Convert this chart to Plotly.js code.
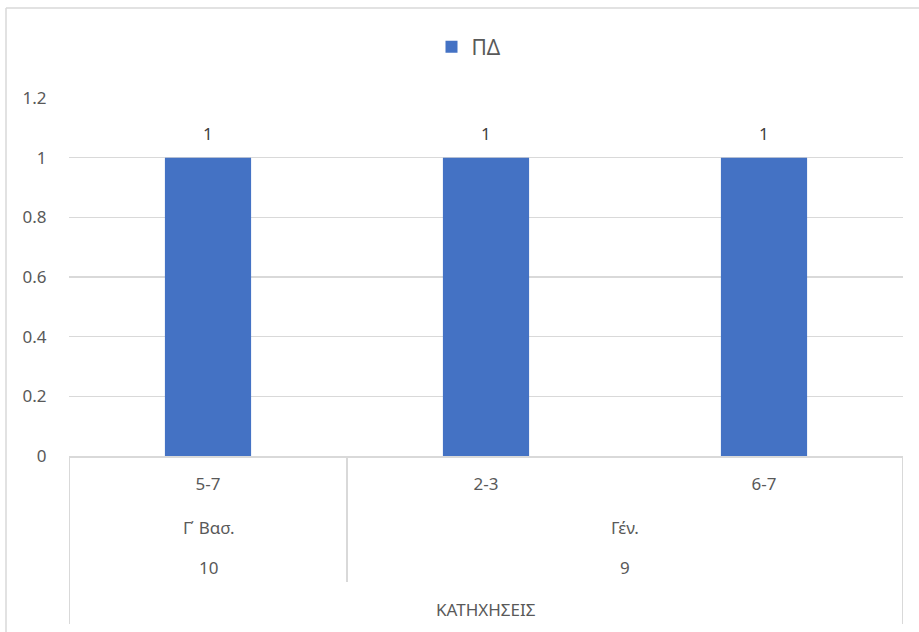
<!DOCTYPE html>
<html>
<head>
<meta charset="utf-8">
<script src="https://cdn.plot.ly/plotly-3.0.1.min.js"></script>
<style>html,body{margin:0;padding:0;background:#fff;}#chart{width:919px;height:632px;}</style>
</head>
<body>
<div id="chart"></div>
<script>
// ---- data ----
const categories = ["5-7", "2-3", "6-7"];
const values = [1, 1, 1];
const seriesName = "ΠΔ";
const level2Labels = ["Γ΄ Βασ.", "Γέν."];
const level2Start = [0, 1];
const level2End = [0, 2];
const level3Labels = ["10", "9"];
const level4Label = "ΚΑΤΗΧΗΣΕΙΣ";

// ---- layout geometry (pixels) ----
const FIG_W = 919, FIG_H = 632;
const L = 69, R = 16, T = 98, B = 176;
const PW = FIG_W - L - R, PH = FIG_H - T - B;
const AXIS_Y = FIG_H - B;
const X = px => (px - L) / PW;
const Y = py => (AXIS_Y - py) / PH;

const FONT = "Noto Sans, Open Sans, sans-serif";
const GRID = "#d9d9d9";
const TXT = "#595959";

const trace = {
  type: "bar",
  x: categories,
  y: values,
  name: seriesName,
  marker: {color: "#4472C4"},
  showlegend: true,
  hoverinfo: "x+y"
};

const shapes = [];
// outer chart border (top & left)
shapes.push({type: "line", xref: "paper", yref: "paper", x0: X(6), x1: X(6), y0: Y(8), y1: Y(640), line: {color: GRID, width: 1.5}});
shapes.push({type: "line", xref: "paper", yref: "paper", x0: X(6), x1: X(925), y0: Y(8), y1: Y(8), line: {color: GRID, width: 1.5}});
// outer category separators
shapes.push({type: "line", xref: "x", yref: "paper", x0: -0.5, x1: -0.5, y0: 0, y1: Y(624), line: {color: GRID, width: 2}});
shapes.push({type: "line", xref: "x", yref: "paper", x0: categories.length - 0.5, x1: categories.length - 0.5, y0: 0, y1: Y(624), line: {color: GRID, width: 2}});
// inner group separators
for (let i = 1; i < level2Start.length; i++) {
  const xb = level2Start[i] - 0.5;
  shapes.push({type: "line", xref: "x", yref: "paper", x0: xb, x1: xb, y0: 0, y1: Y(582), line: {color: GRID, width: 2}});
}

const annotations = [];
// data labels above bars
categories.forEach((c, i) => {
  annotations.push({xref: "x", yref: "y", x: c, y: values[i], text: String(values[i]), showarrow: false, xanchor: "center", yanchor: "bottom", yshift: 11, font: {family: FONT, size: 17, color: "#404040"}});
});
for (let i = 0; i < level2Labels.length; i++) {
  const xc = (level2Start[i] + level2End[i]) / 2;
  annotations.push({xref: "x", yref: "paper", x: xc, y: Y(527), text: level2Labels[i], showarrow: false, xanchor: "center", yanchor: "middle", font: {family: FONT, size: 17, color: TXT}});
  annotations.push({xref: "x", yref: "paper", x: xc, y: Y(567), text: level3Labels[i], showarrow: false, xanchor: "center", yanchor: "middle", font: {family: FONT, size: 17, color: TXT}});
}
annotations.push({xref: "x", yref: "paper", x: (categories.length - 1) / 2, y: Y(609), text: level4Label, showarrow: false, xanchor: "center", yanchor: "middle", font: {family: FONT, size: 17, color: TXT}});

const layout = {
  width: FIG_W,
  height: FIG_H,
  margin: {l: L, r: R, t: T, b: B, pad: 0},
  paper_bgcolor: "#fff",
  plot_bgcolor: "#fff",
  font: {family: FONT, size: 17, color: TXT},
  bargap: 0.69,
  showlegend: true,
  legend: {
    orientation: "h",
    x: X(469), xanchor: "center",
    y: Y(47), yanchor: "middle",
    font: {family: FONT, size: 21, color: TXT},
    itemwidth: 30
  },
  xaxis: {
    type: "category",
    categoryorder: "array",
    categoryarray: categories,
    range: [-0.5, categories.length - 0.5],
    showline: true,
    linecolor: GRID,
    linewidth: 2,
    showgrid: false,
    ticks: "outside",
    ticklen: 12,
    tickcolor: "rgba(0,0,0,0)",
    tickfont: {family: FONT, size: 17, color: TXT},
    fixedrange: true
  },
  yaxis: {
    range: [0, 1.2],
    dtick: 0.2,
    tick0: 0,
    showgrid: true,
    gridcolor: GRID,
    gridwidth: 1.5,
    zeroline: false,
    showline: false,
    ticks: "outside",
    ticklen: 18,
    tickcolor: "rgba(0,0,0,0)",
    tickfont: {family: FONT, size: 17, color: TXT},
    fixedrange: true
  },
  shapes: shapes,
  annotations: annotations
};

Plotly.newPlot("chart", [trace], layout, {displayModeBar: false, staticPlot: true});
</script>
</body>
</html>
